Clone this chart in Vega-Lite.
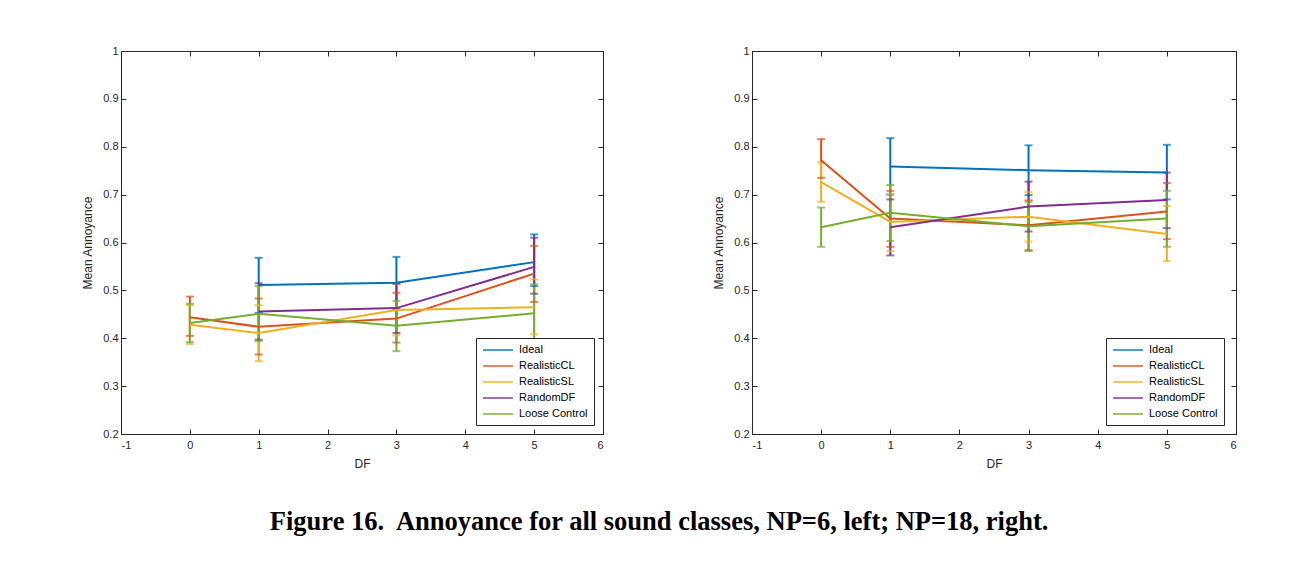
{
  "$schema": "https://vega.github.io/schema/vega-lite/v6.json",
  "padding": {"left": 81, "top": 44, "right": 5, "bottom": 5},
  "background": "white",
  "title": {
    "text": "Figure 16.\u00a0 Annoyance for all sound classes, NP=6, left; NP=18, right.",
    "orient": "bottom",
    "anchor": "middle",
    "font": "Liberation Serif",
    "fontSize": 26.5,
    "fontWeight": "bold",
    "color": "#000000",
    "offset": 39,
    "dx": 0
  },
  "data": {
    "values": [
      {"panel": "NP6", "series": "Ideal", "df": 1, "mean": 0.511, "lo": 0.453, "hi": 0.568},
      {"panel": "NP6", "series": "Ideal", "df": 3, "mean": 0.516, "lo": 0.461, "hi": 0.570},
      {"panel": "NP6", "series": "Ideal", "df": 5, "mean": 0.559, "lo": 0.509, "hi": 0.617},
      {"panel": "NP6", "series": "RealisticCL", "df": 0, "mean": 0.444, "lo": 0.405, "hi": 0.487},
      {"panel": "NP6", "series": "RealisticCL", "df": 1, "mean": 0.424, "lo": 0.366, "hi": 0.483},
      {"panel": "NP6", "series": "RealisticCL", "df": 3, "mean": 0.441, "lo": 0.391, "hi": 0.495},
      {"panel": "NP6", "series": "RealisticCL", "df": 5, "mean": 0.535, "lo": 0.476, "hi": 0.593},
      {"panel": "NP6", "series": "RealisticSL", "df": 0, "mean": 0.428, "lo": 0.388, "hi": 0.469},
      {"panel": "NP6", "series": "RealisticSL", "df": 1, "mean": 0.411, "lo": 0.352, "hi": 0.469},
      {"panel": "NP6", "series": "RealisticSL", "df": 3, "mean": 0.459, "lo": 0.406, "hi": 0.513},
      {"panel": "NP6", "series": "RealisticSL", "df": 5, "mean": 0.465, "lo": 0.408, "hi": 0.523},
      {"panel": "NP6", "series": "RandomDF", "df": 1, "mean": 0.456, "lo": 0.397, "hi": 0.515},
      {"panel": "NP6", "series": "RandomDF", "df": 3, "mean": 0.463, "lo": 0.411, "hi": 0.514},
      {"panel": "NP6", "series": "RandomDF", "df": 5, "mean": 0.549, "lo": 0.493, "hi": 0.610},
      {"panel": "NP6", "series": "Loose Control", "df": 0, "mean": 0.432, "lo": 0.392, "hi": 0.472},
      {"panel": "NP6", "series": "Loose Control", "df": 1, "mean": 0.451, "lo": 0.394, "hi": 0.509},
      {"panel": "NP6", "series": "Loose Control", "df": 3, "mean": 0.426, "lo": 0.373, "hi": 0.478},
      {"panel": "NP6", "series": "Loose Control", "df": 5, "mean": 0.452, "lo": 0.393, "hi": 0.513},
      {"panel": "NP18", "series": "Ideal", "df": 1, "mean": 0.759, "lo": 0.700, "hi": 0.818},
      {"panel": "NP18", "series": "Ideal", "df": 3, "mean": 0.751, "lo": 0.699, "hi": 0.803},
      {"panel": "NP18", "series": "Ideal", "df": 5, "mean": 0.746, "lo": 0.690, "hi": 0.804},
      {"panel": "NP18", "series": "RealisticCL", "df": 0, "mean": 0.772, "lo": 0.735, "hi": 0.816},
      {"panel": "NP18", "series": "RealisticCL", "df": 1, "mean": 0.650, "lo": 0.591, "hi": 0.708},
      {"panel": "NP18", "series": "RealisticCL", "df": 3, "mean": 0.636, "lo": 0.584, "hi": 0.688},
      {"panel": "NP18", "series": "RealisticCL", "df": 5, "mean": 0.665, "lo": 0.607, "hi": 0.724},
      {"panel": "NP18", "series": "RealisticSL", "df": 0, "mean": 0.726, "lo": 0.685, "hi": 0.767},
      {"panel": "NP18", "series": "RealisticSL", "df": 1, "mean": 0.643, "lo": 0.582, "hi": 0.701},
      {"panel": "NP18", "series": "RealisticSL", "df": 3, "mean": 0.654, "lo": 0.602, "hi": 0.705},
      {"panel": "NP18", "series": "RealisticSL", "df": 5, "mean": 0.618, "lo": 0.561, "hi": 0.676},
      {"panel": "NP18", "series": "RandomDF", "df": 1, "mean": 0.632, "lo": 0.573, "hi": 0.690},
      {"panel": "NP18", "series": "RandomDF", "df": 3, "mean": 0.675, "lo": 0.623, "hi": 0.727},
      {"panel": "NP18", "series": "RandomDF", "df": 5, "mean": 0.689, "lo": 0.630, "hi": 0.746},
      {"panel": "NP18", "series": "Loose Control", "df": 0, "mean": 0.632, "lo": 0.591, "hi": 0.673},
      {"panel": "NP18", "series": "Loose Control", "df": 1, "mean": 0.662, "lo": 0.603, "hi": 0.720},
      {"panel": "NP18", "series": "Loose Control", "df": 3, "mean": 0.634, "lo": 0.582, "hi": 0.685},
      {"panel": "NP18", "series": "Loose Control", "df": 5, "mean": 0.650, "lo": 0.591, "hi": 0.708}
    ]
  },
  "hconcat": [
    {
      "width": 482,
      "height": 383,
      "transform": [{"filter": "datum.panel == 'NP6'"}],
      "layer": [
        {
          "mark": {"type": "rule", "strokeWidth": 2},
          "encoding": {
            "x": {"field": "df", "type": "quantitative", "scale": {"domain": [-1, 6], "nice": false, "zero": false}, "axis": {"orient": "top", "labels": false, "grid": false, "title": null, "values": [-1, 0, 1, 2, 3, 4, 5, 6]}},
            "y": {"field": "lo", "type": "quantitative", "scale": {"domain": [0.2, 1], "nice": false, "zero": false}, "axis": {"orient": "right", "labels": false, "grid": false, "title": null, "values": [0.2, 0.3, 0.4, 0.5, 0.6, 0.7, 0.8, 0.9, 1]}},
            "y2": {"field": "hi"},
            "color": {"field": "series", "type": "nominal", "scale": {"domain": ["Ideal", "RealisticCL", "RealisticSL", "RandomDF", "Loose Control"], "range": ["#0072BD", "#D95319", "#EDB120", "#7E2F8E", "#77AC30"]}, "legend": {"orient": "none", "legendX": 355, "legendY": 287, "title": null}}
          }
        },
        {
          "mark": {"type": "tick", "thickness": 2, "size": 8, "orient": "horizontal"},
          "encoding": {
            "x": {"field": "df", "type": "quantitative", "axis": null},
            "y": {"field": "lo", "type": "quantitative", "axis": null},
            "color": {"field": "series", "type": "nominal"}
          }
        },
        {
          "mark": {"type": "tick", "thickness": 2, "size": 8, "orient": "horizontal"},
          "encoding": {
            "x": {"field": "df", "type": "quantitative", "axis": null},
            "y": {"field": "hi", "type": "quantitative", "axis": null},
            "color": {"field": "series", "type": "nominal"}
          }
        },
        {
          "mark": {"type": "line", "strokeWidth": 2},
          "encoding": {
            "x": {"field": "df", "type": "quantitative", "axis": {"orient": "bottom", "title": "DF", "values": [-1, 0, 1, 2, 3, 4, 5, 6], "labelExpr": "'' + datum.value", "labelPadding": 10}},
            "y": {"field": "mean", "type": "quantitative", "axis": {"orient": "left", "title": "Mean Annoyance", "values": [0.2, 0.3, 0.4, 0.5, 0.6, 0.7, 0.8, 0.9, 1], "labelExpr": "'' + datum.value"}},
            "color": {"field": "series", "type": "nominal"}
          }
        }
      ],
      "resolve": {"axis": {"x": "independent", "y": "independent"}}
    },
    {
      "width": 484,
      "height": 383,
      "transform": [{"filter": "datum.panel == 'NP18'"}],
      "layer": [
        {
          "mark": {"type": "rule", "strokeWidth": 2},
          "encoding": {
            "x": {"field": "df", "type": "quantitative", "scale": {"domain": [-1, 6], "nice": false, "zero": false}, "axis": {"orient": "top", "labels": false, "grid": false, "title": null, "values": [-1, 0, 1, 2, 3, 4, 5, 6]}},
            "y": {"field": "lo", "type": "quantitative", "scale": {"domain": [0.2, 1], "nice": false, "zero": false}, "axis": {"orient": "right", "labels": false, "grid": false, "title": null, "values": [0.2, 0.3, 0.4, 0.5, 0.6, 0.7, 0.8, 0.9, 1]}},
            "y2": {"field": "hi"},
            "color": {"field": "series", "type": "nominal", "scale": {"domain": ["Ideal", "RealisticCL", "RealisticSL", "RandomDF", "Loose Control"], "range": ["#0072BD", "#D95319", "#EDB120", "#7E2F8E", "#77AC30"]}, "legend": {"orient": "none", "legendX": 354, "legendY": 287, "title": null}}
          }
        },
        {
          "mark": {"type": "tick", "thickness": 2, "size": 8, "orient": "horizontal"},
          "encoding": {
            "x": {"field": "df", "type": "quantitative", "axis": null},
            "y": {"field": "lo", "type": "quantitative", "axis": null},
            "color": {"field": "series", "type": "nominal"}
          }
        },
        {
          "mark": {"type": "tick", "thickness": 2, "size": 8, "orient": "horizontal"},
          "encoding": {
            "x": {"field": "df", "type": "quantitative", "axis": null},
            "y": {"field": "hi", "type": "quantitative", "axis": null},
            "color": {"field": "series", "type": "nominal"}
          }
        },
        {
          "mark": {"type": "line", "strokeWidth": 2},
          "encoding": {
            "x": {"field": "df", "type": "quantitative", "axis": {"orient": "bottom", "title": "DF", "values": [-1, 0, 1, 2, 3, 4, 5, 6], "labelExpr": "'' + datum.value", "labelPadding": 10}},
            "y": {"field": "mean", "type": "quantitative", "axis": {"orient": "left", "title": "Mean Annoyance", "values": [0.2, 0.3, 0.4, 0.5, 0.6, 0.7, 0.8, 0.9, 1], "labelExpr": "'' + datum.value"}},
            "color": {"field": "series", "type": "nominal"}
          }
        }
      ],
      "resolve": {"axis": {"x": "independent", "y": "independent"}}
    }
  ],
  "spacing": 149,
  "bounds": "flush",
  "resolve": {"scale": {"color": "shared"}, "legend": {"color": "independent"}},
  "config": {
    "font": "Liberation Sans",
    "view": {"stroke": "#262626", "strokeWidth": 1},
    "axis": {
      "labelFont": "Liberation Sans",
      "labelFontSize": 11,
      "labelColor": "#262626",
      "titleFont": "Liberation Sans",
      "titleFontSize": 12,
      "titleFontWeight": "normal",
      "titleColor": "#262626",
      "domainColor": "#262626",
      "tickColor": "#262626",
      "tickSize": -5,
      "labelPadding": 8,
      "gridColor": "#e3e3e3",
      "gridWidth": 1,
      "grid": true
    },
    "axisX": {"titlePadding": 8},
    "axisY": {"titlePadding": 8},
    "legend": {
      "fillColor": "white",
      "strokeColor": "#262626",
      "padding": 6,
      "symbolType": "M-1,0H5",
      "symbolSize": 100,
      "symbolStrokeWidth": 2,
      "symbolFillColor": "transparent",
      "labelOffset": 25,
      "labelExpr": "datum.label + '\u00a0\u00a0\u00a0\u00a0\u00a0'",
      "labelFont": "Liberation Sans",
      "labelFontSize": 11,
      "labelColor": "#000000",
      "rowPadding": 5
    }
  }
}
